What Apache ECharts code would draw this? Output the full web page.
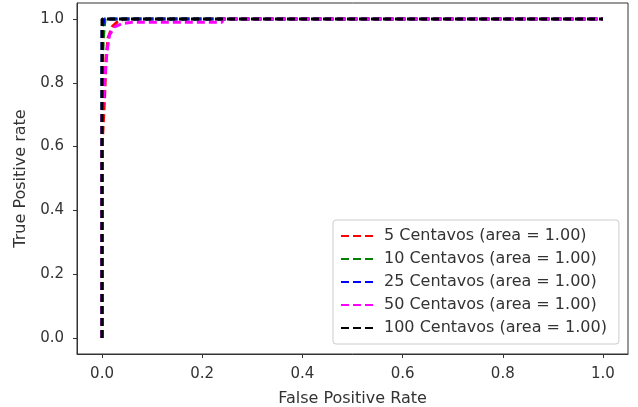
<!DOCTYPE html>
<html>
<head>
<meta charset="utf-8">
<script src="https://cdn.jsdelivr.net/npm/echarts@6/dist/echarts.min.js"></script>
<style>
  html, body { margin: 0; padding: 0; background: #fff; }
  #chart { width: 638px; height: 407px; }
</style>
</head>
<body>
<div id="chart"></div>
<script>
// ROC curves
const names = [
  '5 Centavos (area = 1.00)',
  '10 Centavos (area = 1.00)',
  '25 Centavos (area = 1.00)',
  '50 Centavos (area = 1.00)',
  '100 Centavos (area = 1.00)'
]
const colors = ['#ff0000', '#008000', '#0000ff', '#ff00ff', '#000000']

const fpr5 = [0, 0, 0.005, 0.008, 0.012, 0.02, 0.03, 0.045, 1]
const tpr5 = [0, 0.6, 0.75, 0.88, 0.94, 0.975, 0.99, 1, 1]
const fpr10 = [0, 0, 0.003, 0.006, 1]
const tpr10 = [0, 0.85, 0.95, 1, 1]
const fpr25 = [0, 0, 0.004, 1]
const tpr25 = [0, 0.97, 1, 1]
const fpr50 = [0, 0, 0.01, 0.015, 0.025, 0.04, 0.06, 0.24, 0.24, 1]
const tpr50 = [0, 0.7, 0.9, 0.95, 0.975, 0.985, 0.99, 0.99, 1, 1]
const fpr100 = [0, 0, 1]
const tpr100 = [0, 1, 1]

const tickValues = [0, 0.2, 0.4, 0.6, 0.8, 1.0]

const curves = [
  [fpr5, tpr5],
  [fpr10, tpr10],
  [fpr25, tpr25],
  [fpr50, tpr50],
  [fpr100, tpr100]
]

const chart = echarts.init(document.getElementById('chart'))

const axisCommon = {
  type: 'value',
  min: -0.05,
  max: 1.05,
  nameLocation: 'middle',
  nameTextStyle: { color: '#333', fontSize: 16, fontFamily: 'DejaVu Sans' },
  axisLine: { show: true, onZero: false, lineStyle: { color: '#333', width: 1 } },
  axisTick: { show: true, inside: false, length: 4, customValues: tickValues, lineStyle: { color: '#333' } },
  axisLabel: {
    customValues: tickValues,
    color: '#333',
    fontSize: 15,
    fontFamily: 'DejaVu Sans',
    formatter: v => v.toFixed(1)
  },
  splitLine: { show: false }
}

chart.setOption({
  animation: false,
  grid: {
    left: 77, right: 10, top: 3, bottom: 53,
    outerBoundsMode: 'none',
    containLabel: false,
    show: true, borderColor: '#333', borderWidth: 1, backgroundColor: '#fff'
  },
  xAxis: Object.assign({}, axisCommon, {
    name: 'False Positive Rate',
    nameGap: 37,
    axisLabel: Object.assign({}, axisCommon.axisLabel, { margin: 13 })
  }),
  yAxis: Object.assign({}, axisCommon, {
    name: 'True Positive rate',
    nameGap: 48,
    axisLabel: Object.assign({}, axisCommon.axisLabel, { margin: 13 })
  }),
  legend: {
    orient: 'vertical',
    left: 333,
    top: 220,
    padding: [8, 12, 8, 7],
    itemWidth: 32,
    itemHeight: 14,
    itemGap: 7,
    backgroundColor: '#fff',
    borderColor: '#ccc',
    borderWidth: 1,
    borderRadius: 3,
    itemStyle: { opacity: 0 },
    textStyle: { color: '#333', fontSize: 16, fontFamily: 'DejaVu Sans', padding: [0, 0, 0, 6] },
    data: names
  },
  series: curves.map((c, i) => ({
    name: names[i],
    type: 'line',
    showSymbol: false,
    symbol: 'none',
    color: colors[i],
    lineStyle: { color: colors[i], width: 3, type: [8, 4] },
    data: c[0].map((x, j) => [x, c[1][j]]),
    z: 2 + i
  }))
})
</script>
</body>
</html>
